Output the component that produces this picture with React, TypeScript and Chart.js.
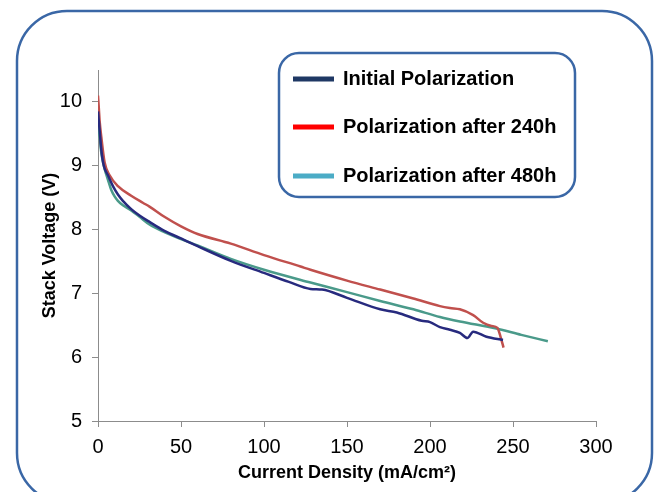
import React, { useEffect, useRef } from "react";
import { Chart, registerables } from "chart.js";

Chart.register(...registerables);

const seriesLabels = ["Initial Polarization", "Polarization after 240h", "Polarization after 480h"];
const lineColors = ["#272a7e", "#c0504d", "#4a9a8a"];
const legendColors = ["#1f3864", "#ff0000", "#4bacc6"];

const initialX = [0, 0.5, 1, 2, 3.5, 6, 9, 12, 15, 20, 25, 31, 40, 50, 60, 80, 100, 115, 128, 135, 150, 170, 180, 195, 200, 206, 212, 218, 222.5, 226, 234, 244];
const initialY = [9.85, 9.7, 9.55, 9.25, 9.0, 8.85, 8.68, 8.55, 8.45, 8.32, 8.22, 8.12, 7.98, 7.86, 7.74, 7.51, 7.32, 7.18, 7.07, 7.06, 6.93, 6.75, 6.7, 6.57, 6.55, 6.47, 6.43, 6.38, 6.3, 6.4, 6.32, 6.27];

const h240X = [0, 0.5, 1, 2, 4, 7, 12, 20, 27, 31, 40, 50, 60, 80, 100, 122, 128, 150, 170, 190, 206, 212, 218, 226, 232, 237, 240.6, 242.5, 244.3];
const h240Y = [10.1, 9.9, 9.7, 9.45, 9.05, 8.85, 8.68, 8.53, 8.42, 8.36, 8.2, 8.05, 7.93, 7.78, 7.6, 7.42, 7.37, 7.2, 7.06, 6.92, 6.8, 6.77, 6.75, 6.66, 6.54, 6.49, 6.46, 6.32, 6.15];

const h480X = [0, 1, 2, 4, 6, 8, 10, 12, 15, 20, 25, 31, 40, 50, 60, 80, 100, 128, 150, 170, 190, 206, 218, 240, 255, 271];
const h480Y = [9.65, 9.45, 9.2, 8.95, 8.78, 8.62, 8.52, 8.45, 8.38, 8.3, 8.2, 8.08, 7.96, 7.85, 7.75, 7.54, 7.37, 7.17, 7.02, 6.88, 6.75, 6.63, 6.56, 6.45, 6.35, 6.25];

const xTicks = [0, 50, 100, 150, 200, 250, 300];
const yTicks = [5, 6, 7, 8, 9, 10];

const xTitle = "Current Density (mA/cm²)";
const yTitle = "Stack Voltage (V)";

const FONT = "'Liberation Sans', Arial, sans-serif";

function pts(xs: number[], ys: number[]) {
  return xs.map((x, i) => ({ x, y: ys[i] }));
}

const framePlugin = {
  id: "frame",
  beforeDraw(chart: any) {
    const ctx = chart.ctx;
    ctx.save();
    ctx.fillStyle = "#ffffff";
    ctx.fillRect(0, 0, chart.width, chart.height);
    ctx.strokeStyle = "#3a67a6";
    ctx.lineWidth = 2.5;
    ctx.beginPath();
    ctx.roundRect(17, 11, 635, 492, 50);
    ctx.stroke();
    ctx.restore();
  },
  afterDraw(chart: any) {
    const ctx = chart.ctx;
    ctx.save();
    ctx.fillStyle = "#ffffff";
    ctx.strokeStyle = "#3a67a6";
    ctx.lineWidth = 2.5;
    ctx.beginPath();
    ctx.roundRect(279, 53, 296, 144, 20);
    ctx.fill();
    ctx.stroke();
    const rows = [79, 127, 176];
    chart.data.datasets.forEach((ds: any, i: number) => {
      ctx.fillStyle = legendColors[i];
      ctx.fillRect(293, rows[i] - 2.5, 41, 5);
      ctx.fillStyle = "#000000";
      ctx.font = "bold 20px " + FONT;
      ctx.textBaseline = "middle";
      ctx.textAlign = "left";
      ctx.fillText(ds.label, 343, rows[i]);
    });
    ctx.restore();
  },
};

export default function App() {
  const ref = useRef<HTMLCanvasElement>(null);
  useEffect(() => {
    document.body.style.margin = "0";
    const chart = new Chart(ref.current!, {
      type: "line",
      data: {
        datasets: [
          { label: seriesLabels[0], data: pts(initialX, initialY) },
          { label: seriesLabels[1], data: pts(h240X, h240Y) },
          { label: seriesLabels[2], data: pts(h480X, h480Y) },
        ].map((d, i) => ({
          ...d,
          borderColor: lineColors[i],
          backgroundColor: lineColors[i],
          borderWidth: 2.5,
          pointRadius: 0,
          fill: false,
          cubicInterpolationMode: "monotone" as const,
        })),
      },
      options: {
        animation: false,
        responsive: false,
        layout: { padding: { top: 70, right: 61, left: 0, bottom: 0 } },
        plugins: { legend: { display: false }, tooltip: { enabled: false } },
        scales: {
          x: {
            type: "linear",
            min: 0,
            max: 300,
            afterBuildTicks: (s: any) => {
              s.ticks = xTicks.map((v) => ({ value: v }));
            },
            afterFit: (s: any) => {
              s.height = 71;
              s.paddingLeft = 0;
              s.paddingRight = 0;
            },
            ticks: { color: "#000", font: { family: FONT, size: 20 }, padding: 8, maxRotation: 0 },
            grid: { display: true, drawOnChartArea: false, drawTicks: true, tickLength: 6, color: "#8c8c8c" },
            border: { display: true, color: "#8c8c8c", width: 1 },
            title: {
              display: true,
              text: xTitle,
              color: "#000",
              font: { family: FONT, size: 18, weight: "bold" },
              padding: { top: 0, bottom: 8 },
            },
          },
          y: {
            type: "linear",
            min: 5,
            max: 10.5,
            afterBuildTicks: (s: any) => {
              s.ticks = yTicks.map((v) => ({ value: v }));
            },
            afterFit: (s: any) => {
              s.width = 98;
              s.paddingTop = 0;
              s.paddingBottom = 0;
            },
            ticks: { color: "#000", font: { family: FONT, size: 20 }, padding: 10 },
            grid: { display: true, drawOnChartArea: false, drawTicks: true, tickLength: 6, color: "#8c8c8c" },
            border: { display: true, color: "#8c8c8c", width: 1 },
            title: {
              display: true,
              text: yTitle,
              color: "#000",
              font: { family: FONT, size: 18, weight: "bold" },
              padding: { top: 39, bottom: 0 },
            },
          },
        },
      },
      plugins: [framePlugin],
    });
    return () => chart.destroy();
  }, []);
  return (
    <div style={{ position: "fixed", left: 0, top: 0, width: 657, height: 492, background: "#fff" }}>
      <canvas ref={ref} width={657} height={492} style={{ display: "block" }} />
    </div>
  );
}
